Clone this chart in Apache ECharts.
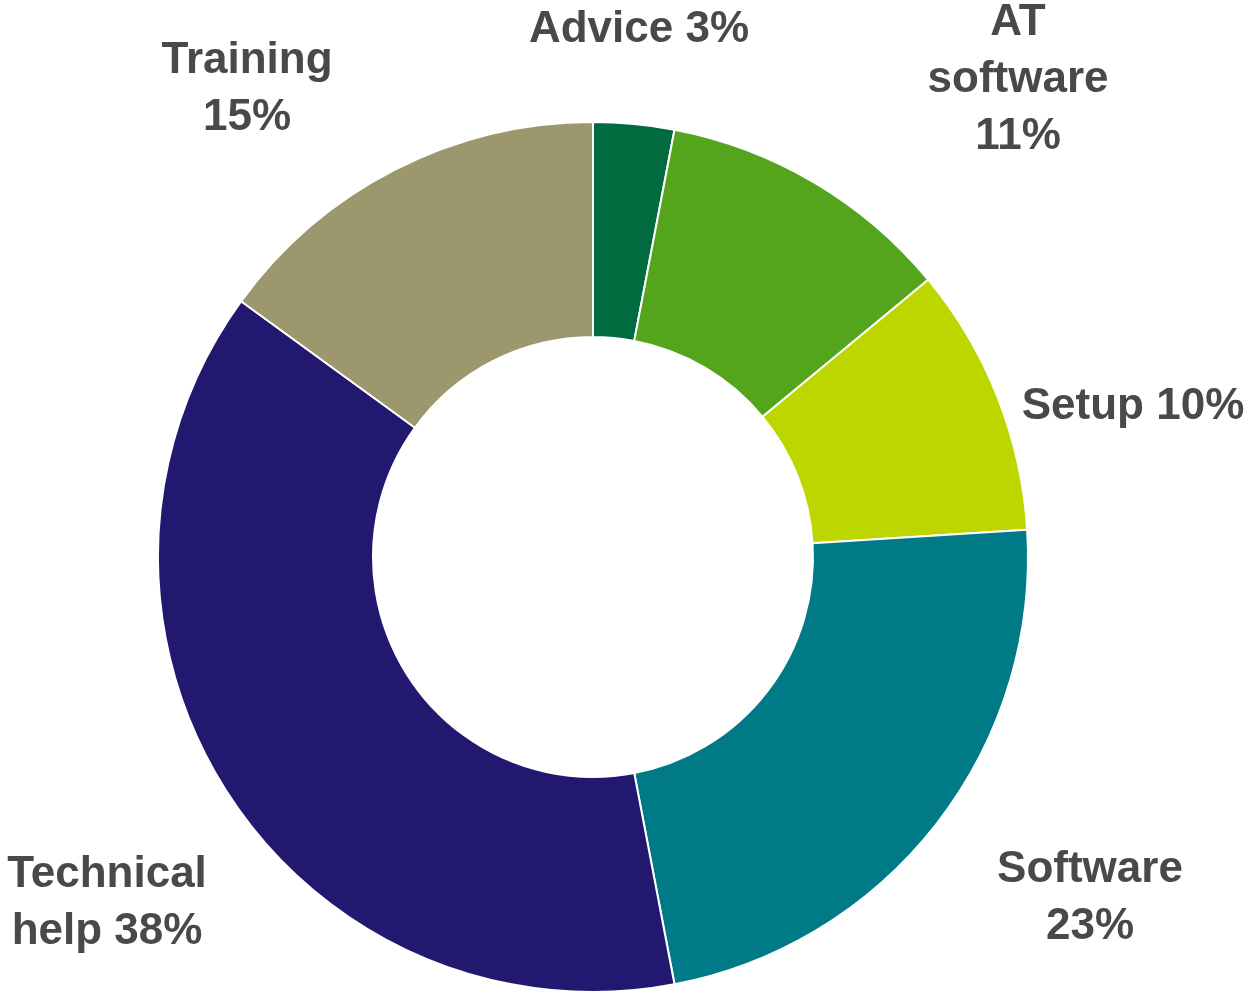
<!DOCTYPE html>
<html>
<head>
<meta charset="utf-8">
<title>Support types</title>
<script src="https://cdn.jsdelivr.net/npm/echarts@6/dist/echarts.min.js"></script>
<style>
  html, body { margin: 0; padding: 0; background: #fff; }
  #container { width: 1249px; height: 995px; }
</style>
</head>
<body>
<div id="container"></div>
<script>
// data
var categories = ['Advice', 'AT software', 'Setup', 'Software', 'Technical help', 'Training'];
var values = [3, 11, 10, 23, 38, 15];
var labelLines = [
    ['Advice 3%'],
    ['AT', 'software', '11%'],
    ['Setup 10%'],
    ['Software', '23%'],
    ['Technical', 'help 38%'],
    ['Training', '15%']
];
var colors = ['#006b3f', '#55a51c', '#bed600', '#007a87', '#231870', '#9c976c'];

// where each label sits (centre of the text block)
var labelPos = [
    [639, 30],
    [1018, 80],
    [1133, 407],
    [1090, 898],
    [107, 903],
    [247, 89]
];

var seriesData = [];
for (var i = 0; i < categories.length; i++) {
    seriesData.push({
        name: categories[i],
        value: values[i],
        itemStyle: { color: colors[i] }
    });
}

var option = {
    animation: false,
    series: [{
        type: 'pie',
        center: [593, 557],
        radius: [220, 435],
        startAngle: 90,
        clockwise: true,
        avoidLabelOverlap: false,
        itemStyle: {
            borderColor: '#ffffff',
            borderWidth: 2
        },
        label: {
            show: true,
            position: 'outside',
            formatter: function (p) {
                return labelLines[p.dataIndex].join('\n');
            },
            fontFamily: '"Liberation Sans", Arial, sans-serif',
            fontWeight: 'bold',
            fontSize: 44,
            lineHeight: 57,
            color: '#48494b',
            align: 'center'
        },
        labelLine: { show: false },
        labelLayout: function (params) {
            var p = labelPos[params.dataIndex];
            return {
                x: p[0],
                y: p[1],
                align: 'center',
                verticalAlign: 'middle'
            };
        },
        data: seriesData
    }]
};

var myChart = echarts.init(document.getElementById('container'));
myChart.setOption(option);
</script>
</body>
</html>
